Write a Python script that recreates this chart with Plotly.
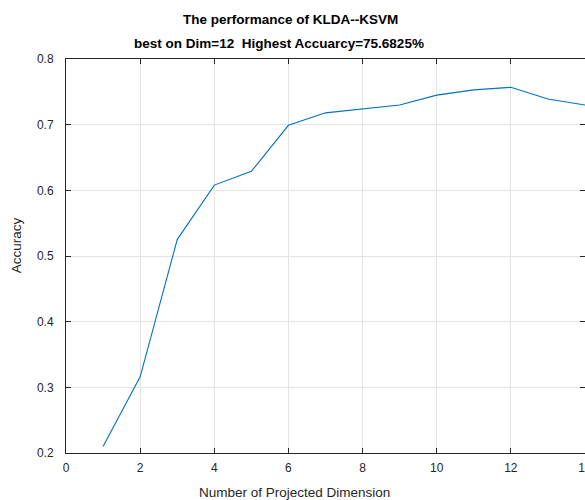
import plotly.graph_objects as go

# Projected dimension vs. classification accuracy (KLDA + kernel SVM)
dims = [1, 2, 3, 4, 5, 6, 7, 8, 9, 10, 11, 12, 13, 14]
accuracy = [0.210, 0.316, 0.525, 0.608, 0.629, 0.699, 0.718, 0.724,
            0.730, 0.745, 0.753, 0.756825, 0.739, 0.730]

x_ticks = [0, 2, 4, 6, 8, 10, 12, 14]
y_ticks = [0.2, 0.3, 0.4, 0.5, 0.6, 0.7, 0.8]
y_tick_text = ["0.2", "0.3", "0.4", "0.5", "0.6", "0.7", "0.8"]

title_line1 = "The performance of KLDA--KSVM"
title_line2 = "best on Dim=12  Highest Accuarcy=75.6825%"
x_label = "Number of Projected Dimension"
y_label = "Accuracy"

FONT = "Liberation Sans, Arial, Helvetica, sans-serif"
AXIS_COLOR = "#262626"
GRID_COLOR = "#e3e3e3"

fig = go.Figure()
fig.add_trace(go.Scatter(
    x=dims, y=accuracy, mode="lines",
    line=dict(color="#0072BD", width=1.1),
    hoverinfo="x+y", showlegend=False,
))
# empty trace that carries the right-hand tick axis
fig.add_trace(go.Scatter(x=[], y=[], yaxis="y2", showlegend=False, hoverinfo="skip"))

common_axis = dict(
    showline=True, linecolor=AXIS_COLOR, linewidth=1,
    ticks="inside", ticklen=5, tickwidth=1, tickcolor=AXIS_COLOR,
    showgrid=True, gridcolor=GRID_COLOR, gridwidth=1,
    zeroline=False,
    tickfont=dict(family=FONT, size=12, color=AXIS_COLOR),
)

fig.update_layout(
    width=604, height=500,
    margin=dict(l=66, r=17, t=59, b=47),
    paper_bgcolor="white", plot_bgcolor="white",
    font=dict(family=FONT, color=AXIS_COLOR),
    xaxis=dict(range=[0, 14], tickvals=x_ticks, mirror="ticks",
               ticklabelstandoff=4, **common_axis),
    yaxis=dict(range=[0.2, 0.8], tickvals=y_ticks, ticktext=y_tick_text,
               ticklabelstandoff=9, **common_axis),
    yaxis2=dict(range=[0.2, 0.8], overlaying="y", side="right",
                tickvals=y_ticks, ticks="inside", ticklen=5, tickwidth=1,
                tickcolor=AXIS_COLOR, showline=False, showgrid=False,
                showticklabels=False, zeroline=False),
)

annotations = [
    dict(text=f"<b>{title_line1}</b>", x=0.4319, y=1.1015,
         font=dict(family=FONT, size=13.5, color="black")),
    dict(text=f"<b>{title_line2}</b>", x=0.4098, y=1.0393,
         font=dict(family=FONT, size=13.5, color="black")),
    dict(text=x_label, x=0.4405, y=-0.1015,
         font=dict(family=FONT, size=13.5, color=AXIS_COLOR)),
    dict(text=y_label, x=-0.094, y=0.528, textangle=-90,
         font=dict(family=FONT, size=13.5, color=AXIS_COLOR)),
]
for a in annotations:
    fig.add_annotation(xref="paper", yref="paper", showarrow=False,
                       xanchor="center", yanchor="middle", **a)

fig.write_html(
    "out.html",
    post_script="document.documentElement.style.overflow='hidden';"
                "document.body.style.overflow='hidden';"
                "document.body.style.margin='0';",
)
